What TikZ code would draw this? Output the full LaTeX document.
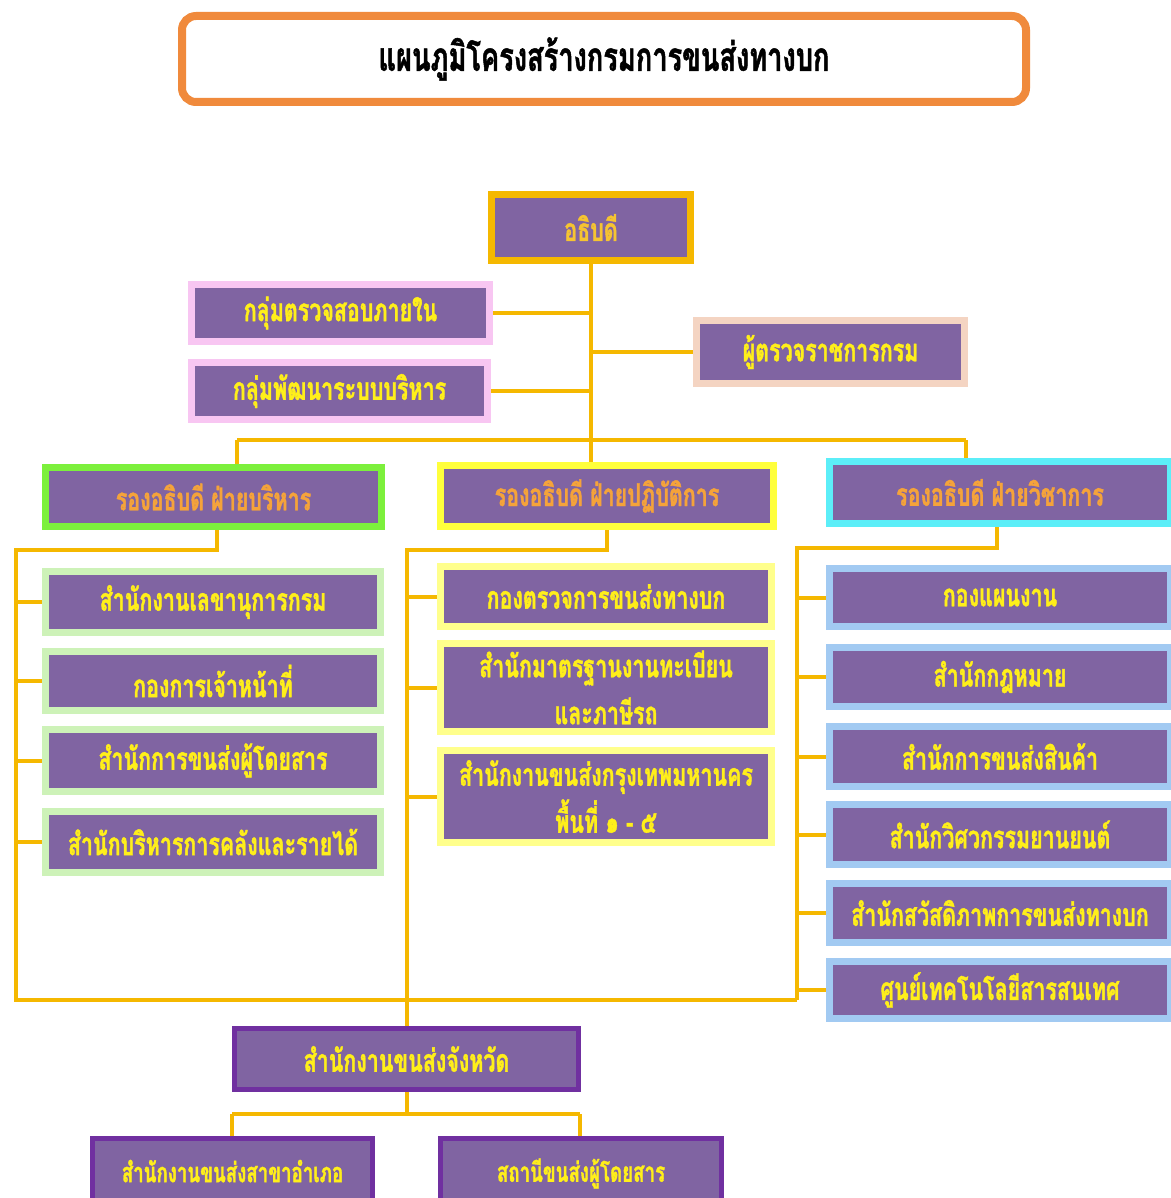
\documentclass[tikz,border=0pt]{standalone}
\usepackage{fontspec}
\newfontfamily\thaifont[Script=Thai, FakeStretch=0.68, BoldFeatures={FakeBold=1.2}]{Loma}
\usetikzlibrary{backgrounds,shadows}
\definecolor{boxpurple}{HTML}{8064A2}
\definecolor{linegold}{HTML}{F5B800}
\definecolor{txtyellow}{HTML}{FFEF1A}
\definecolor{txtorange}{HTML}{F5A33A}
\definecolor{txtgold}{HTML}{F6C431}
\definecolor{titleorange}{HTML}{F08A3C}
\definecolor{chiefgold}{HTML}{F5B800}
\definecolor{pinkb}{HTML}{F8C6F2}
\definecolor{peachb}{HTML}{F4D4C2}
\definecolor{greenb}{HTML}{7CF03C}
\definecolor{yellowb}{HTML}{FFFF3C}
\definecolor{cyanb}{HTML}{5CEEF8}
\definecolor{lgreenb}{HTML}{CDF2B8}
\definecolor{lyellowb}{HTML}{FFFF8C}
\definecolor{lblueb}{HTML}{A2CAF2}
\definecolor{dpurpleb}{HTML}{7030A0}
\begin{document}
\begin{tikzpicture}[x=1pt,y=-1pt,
  conn/.style={draw=linegold, line width=4pt},
  orgbox/.style={rectangle, fill=boxpurple, draw=#1, line width=7pt, inner sep=0pt,
    text=txtyellow, align=center, font=\thaifont\bfseries\fontsize{31.5}{47}\selectfont},
  sz/.style 2 args={minimum width=#1, minimum height=#2},
  deptext/.style={text=txtorange},
  thinbox/.style={orgbox=dpurpleb, line width=5pt},
]
\useasboundingbox (0,0) rectangle (1170,1198);

% title
\node[draw=titleorange, fill=white, line width=8pt, rounded corners=14pt, sz={844}{86},
  font=\thaifont\bfseries\fontsize{40}{44}\selectfont] (title) at (604,59) {แผนภูมิโครงสร้างกรมการขนส่งทางบก};
\draw[titleorange, line width=1.5pt, rounded corners=8pt]
  ([shift={(7,7)}]title.north west) rectangle ([shift={(-7,-7)}]title.south east);

% top level
\node[orgbox=chiefgold, sz={199}{66}, text=txtgold,
  drop shadow={shadow xshift=3pt, shadow yshift=-3pt, fill=gray, opacity=0.6}] (chief) at (591,227.5) {อธิบดี};
\node[orgbox=pinkb, sz={298}{57}] (audit) at (340.5,313) {กลุ่มตรวจสอบภายใน};
\node[orgbox=pinkb, sz={296}{57}] (dev) at (339.5,391) {กลุ่มพัฒนาระบบบริหาร};
\node[orgbox=peachb, sz={268}{63}] (insp) at (830.5,352) {ผู้ตรวจราชการกรม};

% deputies
\node[orgbox=greenb, sz={336}{59}, deptext] (depA) at (213.5,497) {รองอธิบดี ฝ่ายบริหาร};
\node[orgbox=yellowb, sz={333}{61}, deptext] (depO) at (607,496) {รองอธิบดี ฝ่ายปฏิบัติการ};
\node[orgbox=cyanb, sz={341}{62}, deptext] (depT) at (1000,492.5) {รองอธิบดี ฝ่ายวิชาการ};

% left children
\node[orgbox=lgreenb, sz={335}{61}] (a1) at (213,602) {สำนักงานเลขานุการกรม};
\node[orgbox=lgreenb, sz={335}{59}] (a2) at (213,681) {กองการเจ้าหน้าที่};
\node[orgbox=lgreenb, sz={335}{62}] (a3) at (213,760.5) {สำนักการขนส่งผู้โดยสาร};
\node[orgbox=lgreenb, sz={335}{61}] (a4) at (213,842) {สำนักบริหารการคลังและรายได้};

% middle children
\node[orgbox=lyellowb, sz={331}{60}] (o1) at (606,596.5) {กองตรวจการขนส่งทางบก};
\node[orgbox=lyellowb, sz={331}{88}] (o2) at (606,687.5) {สำนักมาตรฐานงานทะเบียน\\และภาษีรถ};
\node[orgbox=lyellowb, sz={331}{92}] (o3) at (606,796.5) {สำนักงานขนส่งกรุงเทพมหานคร\\พื้นที่ ๑ - ๕};

% right children
\node[orgbox=lblueb, sz={341}{58}] (t1) at (1000,597.5) {กองแผนงาน};
\node[orgbox=lblueb, sz={341}{59}] (t2) at (1000,677) {สำนักกฎหมาย};
\node[orgbox=lblueb, sz={341}{60}] (t3) at (1000,756.5) {สำนักการขนส่งสินค้า};
\node[orgbox=lblueb, sz={341}{60}] (t4) at (1000,834.5) {สำนักวิศวกรรมยานยนต์};
\node[orgbox=lblueb, sz={341}{59}] (t5) at (1000,913) {สำนักสวัสดิภาพการขนส่งทางบก};
\node[orgbox=lblueb, sz={341}{57}] (t6) at (1000,990) {ศูนย์เทคโนโลยีสารสนเทศ};

% provincial
\node[thinbox, sz={344}{61}] (prov) at (406.5,1059) {สำนักงานขนส่งจังหวัด};
\node[thinbox, sz={280}{70}, font=\thaifont\bfseries\fontsize{27.5}{30}\selectfont] (amp) at (232.5,1173.5) {\raisebox{5pt}{สำนักงานขนส่งสาขาอำเภอ}};
\node[thinbox, sz={281}{70}, font=\thaifont\bfseries\fontsize{27.5}{30}\selectfont] (sta) at (581,1173.5) {\raisebox{5pt}{สถานีขนส่งผู้โดยสาร}};

% junction coordinates
\coordinate (busL) at (237,440);
\coordinate (busR) at (966,440);
\coordinate (lA) at (217,550);
\coordinate (lB) at (16,550);
\coordinate (lC) at (16,1000);
\coordinate (mA) at (607,550);
\coordinate (mB) at (406.5,550);
\coordinate (rA) at (997,548);
\coordinate (rB) at (797,548);
\coordinate (rC) at (797,1000);
\coordinate (bL) at (232,1114);
\coordinate (bR) at (580,1114);

\begin{pgfonlayer}{background}
\fill[white] (0,0) rectangle (1170,1198);
\draw[conn] (chief.south) -- (chief.south |- depO.north);
\draw[conn] (audit.east) -- (audit.east -| chief.south);
\draw[conn] (dev.east) -- (dev.east -| chief.south);
\draw[conn] (insp.west) -- (insp.west -| chief.south);
\draw[conn] (busL) -- (busR);
\draw[conn] (busL) -- (busL |- depA.north);
\draw[conn] (busR) -- (busR |- depT.north);
% left branch
\draw[conn] (lA |- depA.south) -- (lA) -- (lB) -- (lC) -- (rC);
\foreach \n in {a1,a2,a3,a4} \draw[conn] (\n.west -| lB) -- (\n.west);
% middle branch
\draw[conn] (mA |- depO.south) -- (mA) -- (mB) -- (prov.north);
\foreach \n in {o1,o2,o3} \draw[conn] (\n.west -| mB) -- (\n.west);
% right branch
\draw[conn] (rA |- depT.south) -- (rA) -- (rB) -- (rC);
\foreach \n in {t1,t2,t3,t4,t5,t6} \draw[conn] (\n.west -| rB) -- (\n.west);
% provincial
\draw[conn] (prov.south) -- (prov.south |- bL);
\draw[conn] (bL) -- (bR);
\draw[conn] (bL) -- (amp.north -| bL);
\draw[conn] (bR) -- (sta.north -| bR);
\end{pgfonlayer}
\end{tikzpicture}
\end{document}
